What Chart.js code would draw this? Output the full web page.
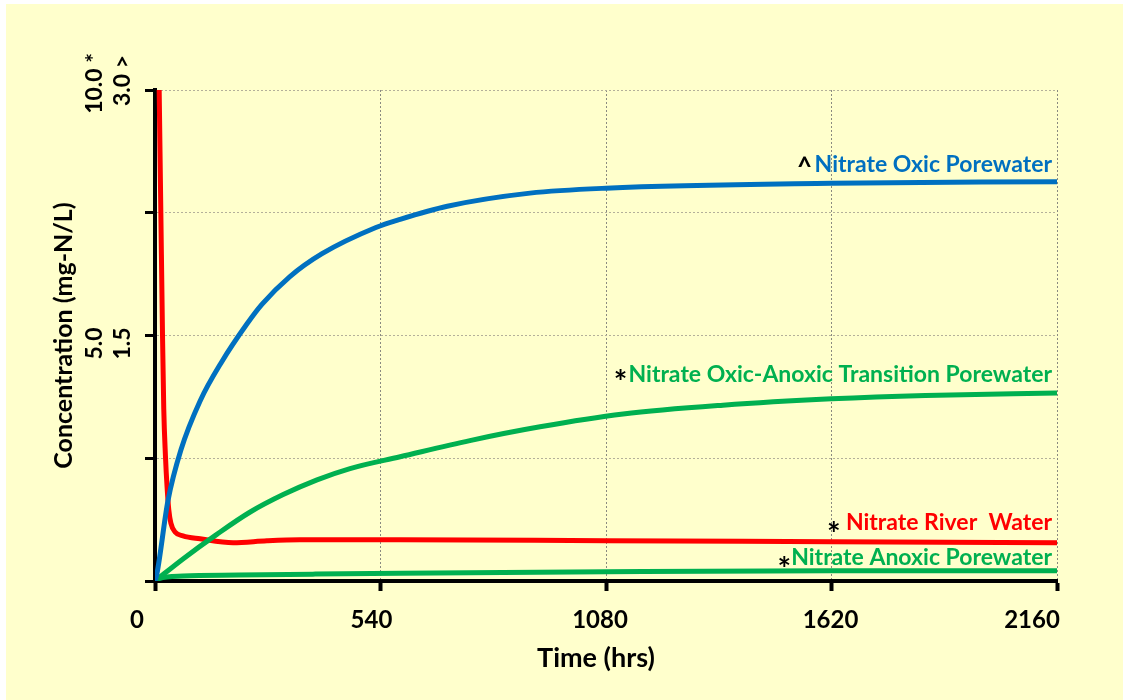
<!DOCTYPE html>
<html>
<head>
<meta charset="utf-8">
<script src="https://cdn.jsdelivr.net/npm/chart.js"></script>
<style>
  html, body { margin: 0; padding: 0; background: #fff; }
  canvas { display: block; }
</style>
</head>
<body>
<canvas id="nitrateChart" width="1123" height="700"></canvas>
<script>
// nitrate concentrations over time
// two left scales share one axis: "*" series 0-10 mg-N/L, "^" series 0-3 mg-N/L

const xTicks = [0, 540, 1080, 1620, 2160];
const xTickLabels = ['0', '540', '1080', '1620', '2160'];
const starTickLabels = ['5.0', '10.0 *'];   // outer column, * scale
const caretTickLabels = ['1.5', '3.0 >'];   // inner column, ^ scale

// ^ Nitrate Oxic Porewater (0-3 scale)
const oxicHours  = [0, 5, 31, 62, 108, 160, 220, 256, 323, 400, 529, 587, 700, 898, 1080, 1620, 2160];
const oxicValues = [0, 0.05, 0.49, 0.80, 1.10, 1.34, 1.57, 1.69, 1.86, 2.00, 2.16, 2.21, 2.29, 2.37, 2.40, 2.43, 2.44];

// * Nitrate Oxic-Anoxic Transition Porewater (0-10 scale)
const transHours  = [0, 67, 148, 227, 307, 388, 467, 587, 754, 922, 1121, 1360, 1620, 1845, 2160];
const transValues = [0, 0.45, 0.95, 1.40, 1.76, 2.06, 2.29, 2.53, 2.86, 3.14, 3.40, 3.58, 3.71, 3.78, 3.83];

// * Nitrate River Water (0-10 scale)
const riverHours  = [10, 14, 18, 21, 25, 29, 33, 38, 48, 67, 108, 187, 268, 347, 587, 1080, 1620, 2160];
const riverValues = [10.0, 7.5, 5.0, 3.5, 2.55, 1.9, 1.45, 1.18, 1.0, 0.92, 0.86, 0.78, 0.82, 0.84, 0.84, 0.82, 0.80, 0.78];

// * Nitrate Anoxic Porewater (0-10 scale)
const anoxicHours  = [0, 10, 67, 200, 378, 587, 1080, 1620, 2160];
const anoxicValues = [0, 0.05, 0.10, 0.12, 0.14, 0.16, 0.19, 0.21, 0.21];

const seriesNames = ['Nitrate Oxic Porewater', 'Nitrate Oxic-Anoxic Transition Porewater', 'Nitrate Anoxic Porewater', 'Nitrate River  Water'];
const seriesMarks = ['^', '*', '*', '*'];
const seriesColors = ['#0070C0', '#00B050', '#00B050', '#FF0000'];

const BLUE = seriesColors[0], GREEN = seriesColors[1], RED = seriesColors[3];
const FONT = 'Lato, "Open Sans", sans-serif';

function pts(xs, ys) {
  return xs.map((x, i) => ({ x: x, y: ys[i] }));
}

function vText(ctx, txt, cx, cy, align) {
  ctx.save();
  ctx.translate(cx, cy);
  ctx.rotate(-Math.PI / 2);
  ctx.textAlign = align;
  ctx.textBaseline = 'middle';
  ctx.fillText(txt, 0, 0);
  ctx.restore();
}

// draw a glyph with its ink centred on (cx, cy)
function glyph(ctx, ch, cx, cy) {
  ctx.textAlign = 'center';
  ctx.textBaseline = 'alphabetic';
  const m = ctx.measureText(ch);
  ctx.fillText(ch, cx, cy + (m.actualBoundingBoxAscent - m.actualBoundingBoxDescent) / 2);
}

const slideText = {
  id: 'slideText',
  beforeDraw(chart) {
    const ctx = chart.ctx;
    ctx.save();
    ctx.fillStyle = '#fff';
    ctx.fillRect(0, 0, chart.width, chart.height);
    ctx.fillStyle = '#FFFFCC';
    ctx.fillRect(6, 4, chart.width - 6, chart.height - 4);
    ctx.restore();
  },
  afterDraw(chart) {
    const ctx = chart.ctx;
    const xs = chart.scales.x, yc = chart.scales.y, ys = chart.scales.yStar;
    const area = chart.chartArea;
    ctx.save();
    ctx.fillStyle = '#000';

    // x tick labels (slide text boxes sit a little left of the ticks)
    const xNudge = [-18, -9, -6, -1, -25];
    ctx.font = 'bold 24px ' + FONT;
    ctx.textAlign = 'center';
    ctx.textBaseline = 'alphabetic';
    xTicks.forEach((v, i) => {
      ctx.fillText(xTickLabels[i], xs.getPixelForValue(v) + xNudge[i], area.bottom + 47);
    });

    // x title
    ctx.font = 'bold 27px ' + FONT;
    ctx.fillText('Time (hrs)', (area.left + area.right) / 2 - 10, area.bottom + 86);

    // y tick labels, rotated, two columns
    ctx.font = 'bold 23px ' + FONT;
    const midY = yc.getPixelForValue(1.5) + 8;
    vText(ctx, starTickLabels[0], area.left - 60, midY, 'center');
    vText(ctx, caretTickLabels[0], area.left - 32, midY, 'center');
    vText(ctx, starTickLabels[1], area.left - 60, yc.getPixelForValue(3) - 37, 'right');
    vText(ctx, caretTickLabels[1], area.left - 32, yc.getPixelForValue(3) - 35, 'right');

    // y title
    ctx.font = 'bold 25px ' + FONT;
    vText(ctx, 'Concentration (mg-N/L)', area.left - 91, (area.top + area.bottom) / 2, 'center');

    // series labels at the right end of each curve
    const ends = [
      yc.getPixelForValue(oxicValues[oxicValues.length - 1]),
      ys.getPixelForValue(transValues[transValues.length - 1]),
      ys.getPixelForValue(anoxicValues[anoxicValues.length - 1]),
      ys.getPixelForValue(riverValues[riverValues.length - 1])
    ];
    const lay = [
      { dy: -10, gap: 10, sy: -10, size: 26 },
      { dy: -11, gap: 8, sy: -8, size: 32 },
      { dy: -6, gap: 7, sy: -4, size: 32 },
      { dy: -13, gap: 12, sy: -4, size: 32 }
    ];
    const right = area.right - 5;
    seriesNames.forEach((name, i) => {
      const base = ends[i] + lay[i].dy;
      ctx.font = 'bold 23px ' + FONT;
      ctx.textAlign = 'right';
      ctx.textBaseline = 'alphabetic';
      ctx.fillStyle = seriesColors[i];
      ctx.fillText(name, right, base);
      const w = ctx.measureText(name).width;
      ctx.fillStyle = '#000';
      ctx.font = 'bold ' + lay[i].size + 'px ' + FONT;
      glyph(ctx, seriesMarks[i], right - w - lay[i].gap, base + lay[i].sy);
    });
    ctx.restore();
  }
};

const lineStyle = {
  borderWidth: 5,
  pointRadius: 0,
  fill: false,
  cubicInterpolationMode: 'monotone'
};

new Chart(document.getElementById('nitrateChart'), {
  type: 'line',
  data: {
    datasets: [
      Object.assign({ label: seriesNames[0], data: pts(oxicHours, oxicValues), borderColor: BLUE, yAxisID: 'y' }, lineStyle),
      Object.assign({ label: seriesNames[1], data: pts(transHours, transValues), borderColor: GREEN, yAxisID: 'yStar' }, lineStyle),
      Object.assign({ label: seriesNames[2], data: pts(anoxicHours, anoxicValues), borderColor: GREEN, yAxisID: 'yStar' }, lineStyle),
      Object.assign({ label: seriesNames[3], data: pts(riverHours, riverValues), borderColor: RED, yAxisID: 'yStar' }, lineStyle)
    ]
  },
  options: {
    responsive: false,
    animation: false,
    devicePixelRatio: 1,
    layout: { padding: { left: 145, top: 90, right: 66, bottom: 109 } },
    plugins: {
      legend: { display: false },
      tooltip: { enabled: false },
      title: { display: false }
    },
    scales: {
      x: {
        type: 'linear',
        min: 0,
        max: 2160,
        ticks: { stepSize: 540, display: false },
        grid: { color: '#8a8a80', lineWidth: 1, tickColor: '#000', tickWidth: 4, tickLength: 10 },
        border: { color: '#000', width: 4, dash: [2, 2] }
      },
      y: {
        type: 'linear',
        position: 'left',
        min: 0,
        max: 3,
        ticks: { stepSize: 0.75, display: false },
        grid: { color: '#b4b09a', lineWidth: 1, tickColor: '#000', tickWidth: 3, tickLength: 10 },
        border: { color: '#000', width: 4, dash: [2, 2] }
      },
      yStar: {
        type: 'linear',
        position: 'left',
        min: 0,
        max: 10,
        display: false
      }
    }
  },
  plugins: [slideText]
});
</script>
</body>
</html>
